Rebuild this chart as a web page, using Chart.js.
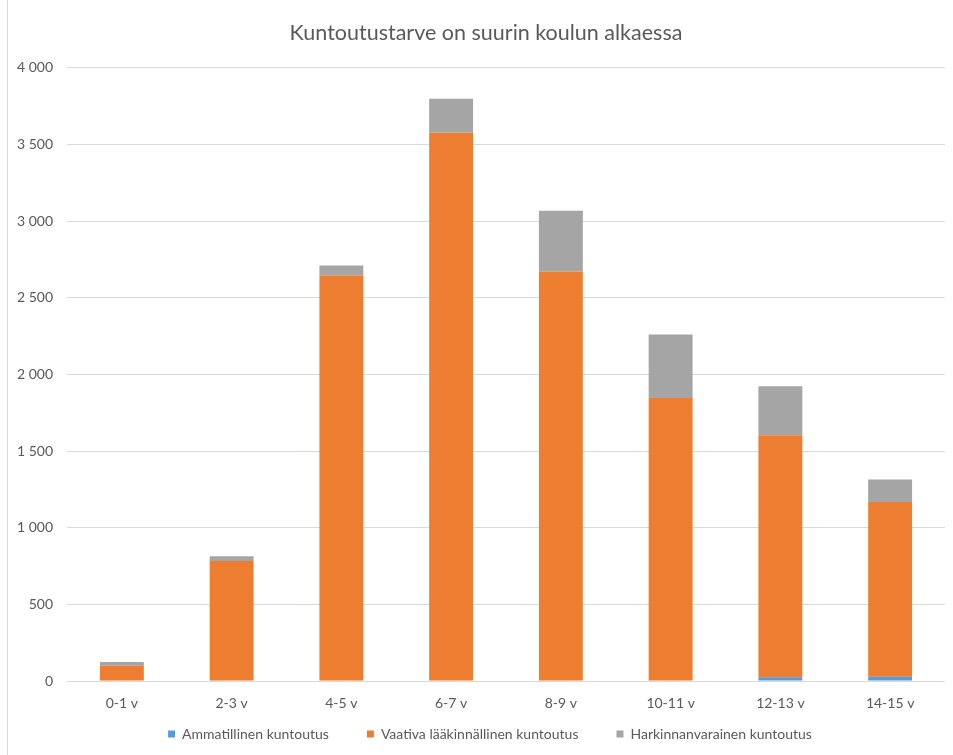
<!DOCTYPE html>
<html>
<head>
<meta charset="utf-8">
<script src="https://cdn.jsdelivr.net/npm/chart.js@4"></script>
<style>
  html, body { margin: 0; padding: 0; background: #fff; }
  #wrap { position: relative; width: 953px; height: 755px; }
  #frame { position: absolute; left: 7px; top: 0; width: 1px; height: 755px; background: #d9d9d9; }
  canvas { position: absolute; left: 0; top: 0; }
</style>
</head>
<body>
<div id="wrap">
  <div id="frame"></div>
  <canvas id="rehabChart" width="953" height="755"></canvas>
</div>
<script>
const categories = ['0-1 v', '2-3 v', '4-5 v', '6-7 v', '8-9 v', '10-11 v', '12-13 v', '14-15 v'];

// series values
const ammatillinen = [0, 0, 0, 0, 0, 0, 25, 28];
const vaativa = [100, 782, 2645, 3577, 2671, 1846, 1578, 1140];
const harkinnanvarainen = [24, 32, 65, 221, 397, 415, 319, 146];

const yTickLabels = ['0', '500', '1 000', '1 500', '2 000', '2 500', '3 000', '3 500', '4 000'];

const textColor = '#595959';
const gridColor = '#d9d9d9';
Chart.defaults.font.family = 'Lato, "Open Sans", sans-serif';
Chart.defaults.color = textColor;

// Excel centres title and legend slightly right of the canvas centre
const LEGEND_SHIFT = 10;
const TITLE_SHIFT = 6;

const shiftDraw = (box, dx) => {
  const draw = box.draw;
  box.draw = function (...args) {
    this.ctx.save();
    this.ctx.translate(dx, 0);
    draw.apply(this, args);
    this.ctx.restore();
  };
};

const excelLayout = {
  id: 'excelLayout',
  beforeLayout(chart) {
    const legend = chart.legend;
    if (legend && !legend._shifted) {
      legend._shifted = true;
      shiftDraw(legend, LEGEND_SHIFT);
    }
    const title = chart.titleBlock;
    if (title && !title._shifted) {
      title._shifted = true;
      shiftDraw(title, TITLE_SHIFT);
    }
  },
};

const renderChart = () => {
  const ctx = document.getElementById('rehabChart').getContext('2d');

  new Chart(ctx, {
    type: 'bar',
    data: {
      labels: categories,
      datasets: [
        { label: 'Ammatillinen kuntoutus', data: ammatillinen, backgroundColor: '#5b9bd5' },
        { label: 'Vaativa lääkinnällinen kuntoutus', data: vaativa, backgroundColor: '#ed7d31' },
        { label: 'Harkinnanvarainen kuntoutus', data: harkinnanvarainen, backgroundColor: '#a5a5a5' },
      ],
    },
    plugins: [excelLayout],
    options: {
      responsive: false,
      animation: false,
      events: [],
      datasets: { bar: { categoryPercentage: 1, barPercentage: 0.4 } },
      layout: { padding: { left: 15, right: 8, top: 20, bottom: 4 } },
      plugins: {
        title: {
          display: true,
          text: 'Kuntoutustarve on suurin koulun alkaessa',
          color: textColor,
          font: { size: 21.5, weight: 'normal' },
          padding: { top: 0, bottom: 22 },
        },
        legend: {
          position: 'bottom',
          labels: {
            boxWidth: 7,
            boxHeight: 7,
            padding: 38,
            color: textColor,
            font: { size: 14 },
          },
        },
        tooltip: { enabled: false },
      },
      scales: {
        x: {
          stacked: true,
          // legend padding already leaves room above the legend items,
          // so the axis labels sit inside that space (and are not clipped)
          afterFit: scale => {
            scale.height = 8;
            scale._computeLabelArea = () => null;
          },
          grid: { display: false },
          border: { display: false },
          ticks: { color: textColor, font: { size: 14 }, padding: 6 },
        },
        y: {
          stacked: true,
          min: 0,
          max: 4000,
          afterFit: scale => { scale.width = 52; },
          grid: { color: gridColor, lineWidth: 1, drawTicks: false },
          border: { display: false },
          ticks: {
            stepSize: 500,
            padding: 14,
            color: textColor,
            font: { size: 14 },
            callback: value => yTickLabels[value / 500],
          },
        },
      },
    },
  });
};

document.addEventListener('DOMContentLoaded', renderChart);
</script>
</body>
</html>
